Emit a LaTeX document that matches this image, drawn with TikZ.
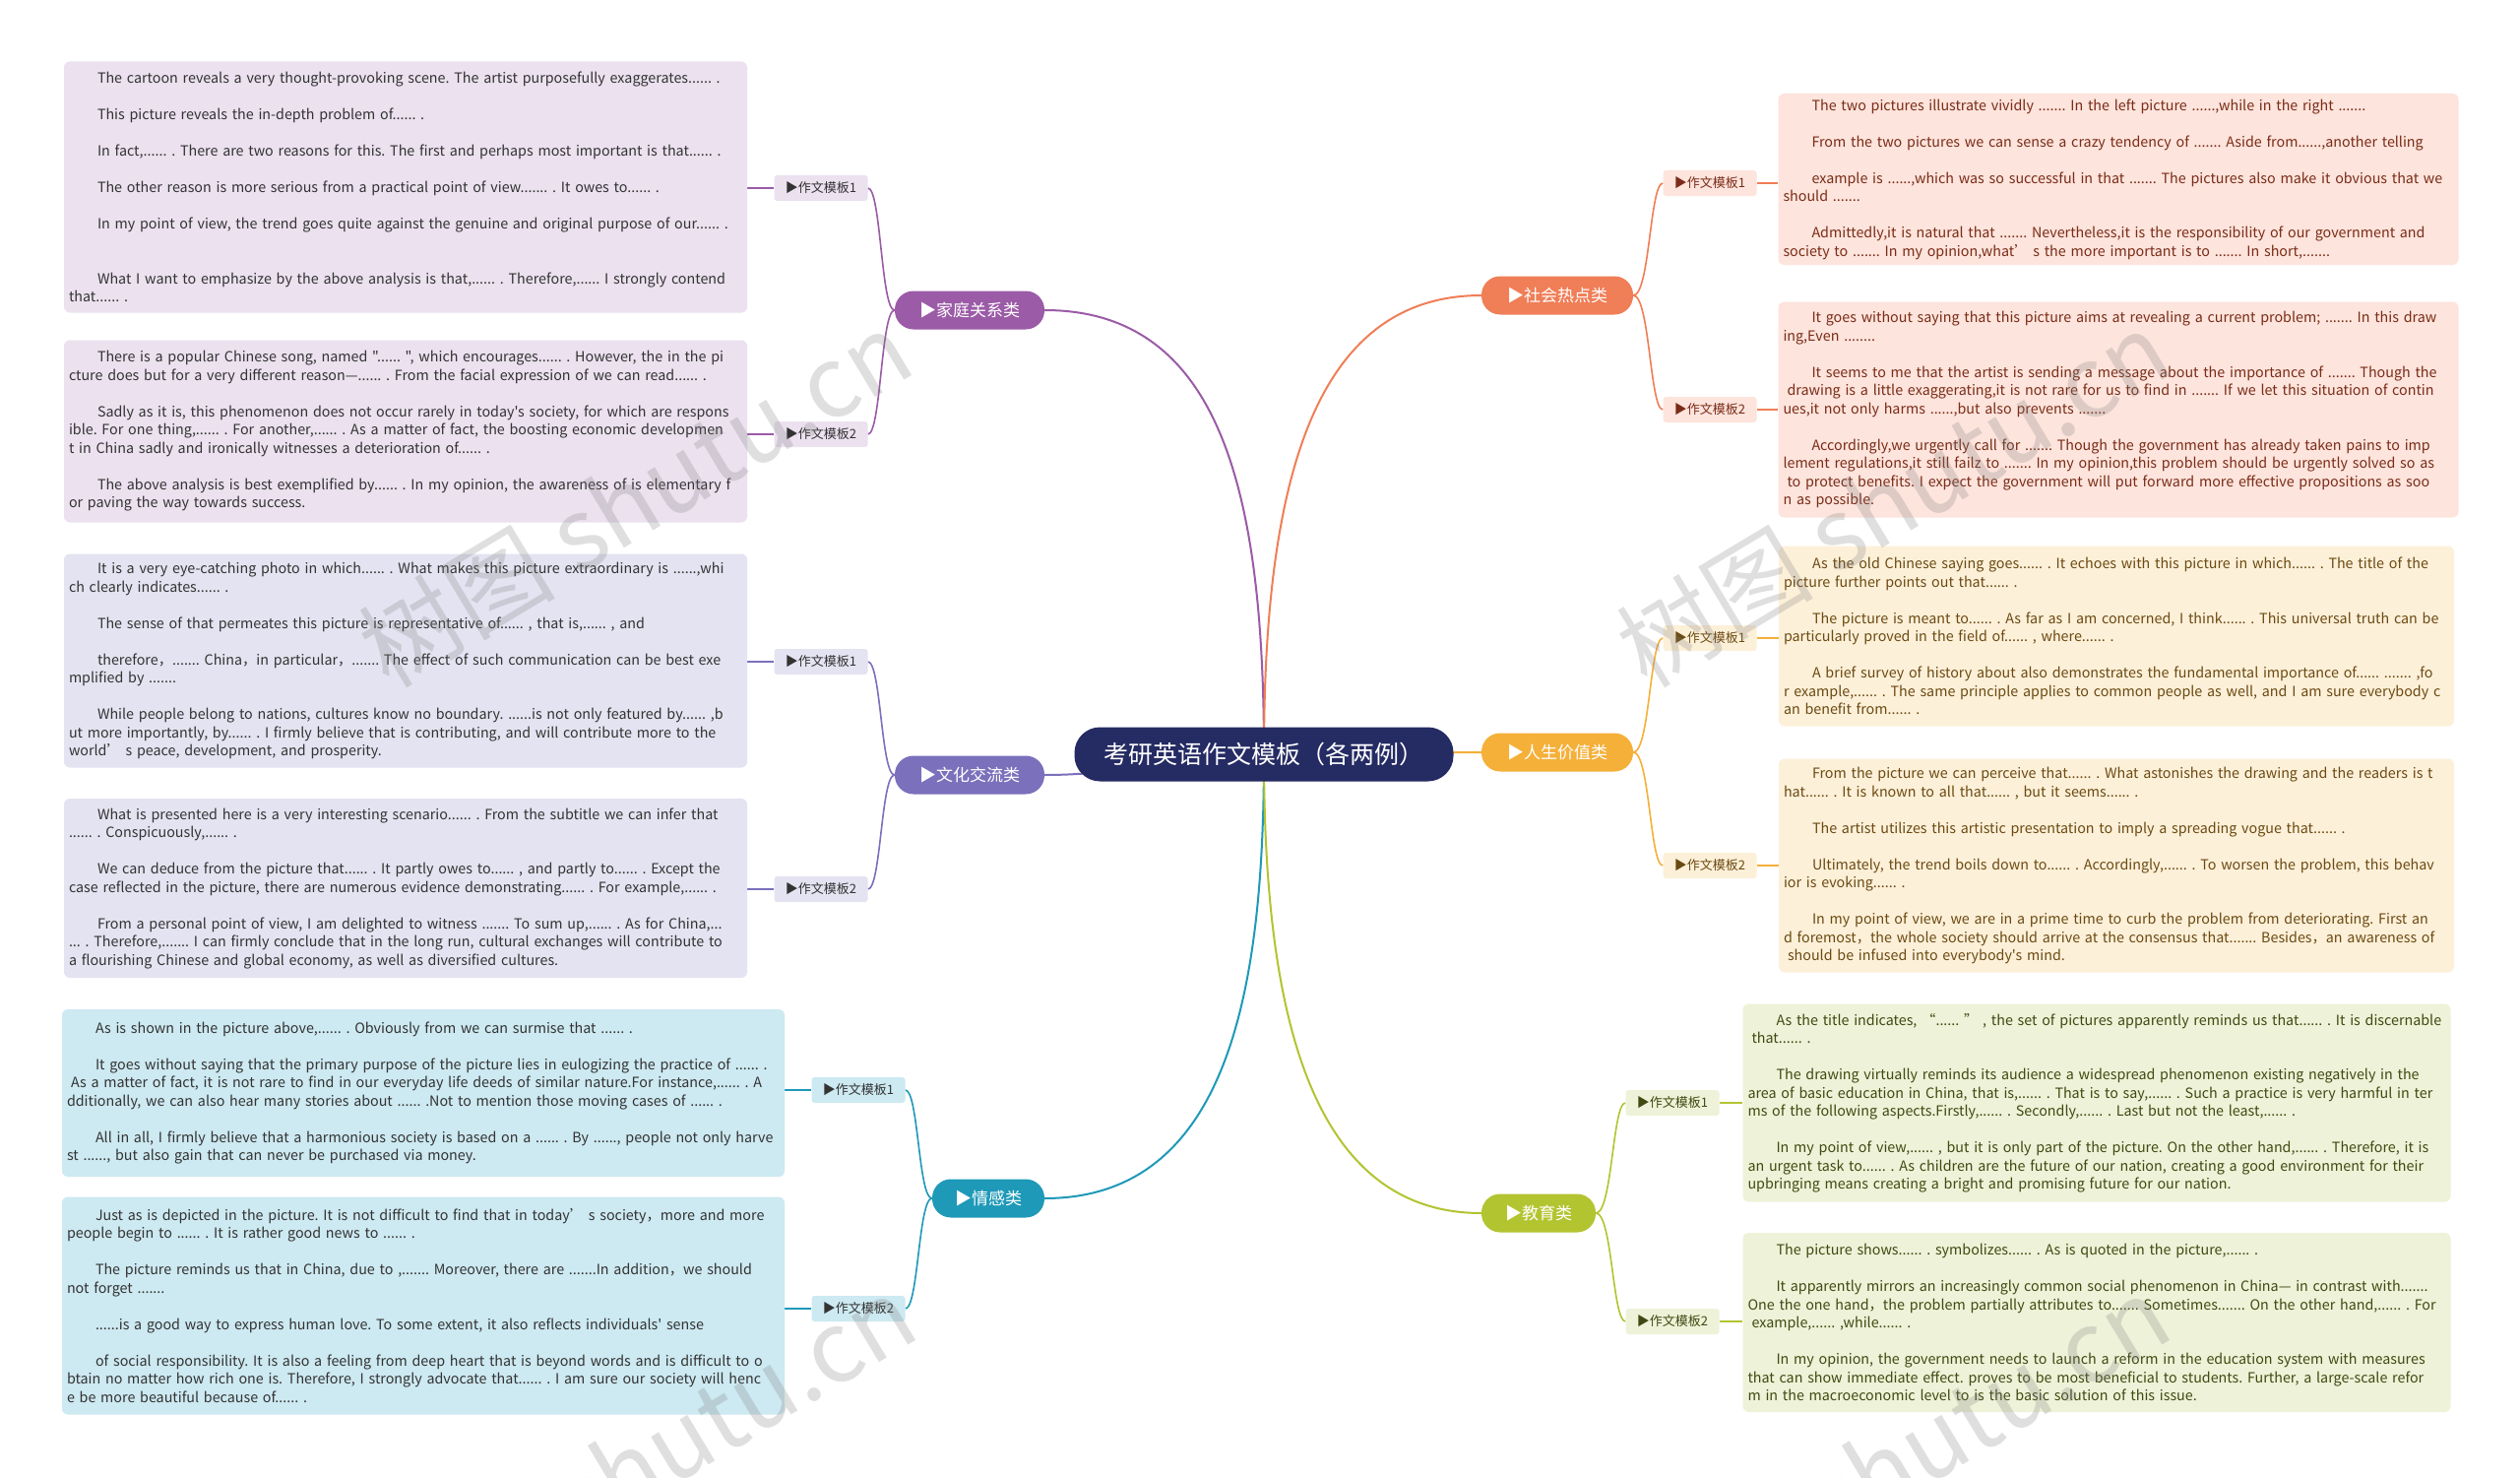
\documentclass[tikz,border=0pt]{standalone}
\usepackage{fontspec}
\setmainfont{Noto Sans CJK SC}
\newfontfamily\notofont{Noto Sans CJK SC}
\usetikzlibrary{backgrounds}
\definecolor{rootcol}{HTML}{252B63}
\definecolor{famcol}{HTML}{9B5BA7}
\definecolor{famfill}{HTML}{EBE1EF}
\definecolor{culcol}{HTML}{7A70BC}
\definecolor{culfill}{HTML}{E4E3F1}
\definecolor{emocol}{HTML}{1E99B8}
\definecolor{emofill}{HTML}{CDE9F1}
\definecolor{soccol}{HTML}{F07E57}
\definecolor{socfill}{HTML}{FDE4DC}
\definecolor{soctext}{HTML}{7A2C18}
\definecolor{lifcol}{HTML}{F5B03A}
\definecolor{liffill}{HTML}{FDF0D9}
\definecolor{liftext}{HTML}{6B4A12}
\definecolor{educol}{HTML}{B3C431}
\definecolor{edufill}{HTML}{EEF2D8}
\definecolor{edutext}{HTML}{3F4A12}
\definecolor{bodytext}{HTML}{333333}
\newcommand\parin{\hspace*{29pt}}
\frenchspacing
\hyphenpenalty=10000
\exhyphenpenalty=10000

\begin{document}
\begin{tikzpicture}[
  x=1pt, y=-1pt,
  root/.style={fill=rootcol, text=white, rounded corners=26pt, minimum width=385, minimum height=55, font=\fontsize{25}{30}\selectfont},
  branch/.style={rounded corners=19pt, text=white, minimum height=39, inner xsep=4pt, font=\fontsize{17}{20}\selectfont},
  tag/.style={rounded corners=3pt, minimum width=95, minimum height=26, inner sep=2pt, font=\fontsize{13}{15}\selectfont},
  tbox/.style={rounded corners=6pt, align=left, inner xsep=5pt, inner ysep=0pt, font=\notofont\fontsize{14.3}{18.5}\selectfont},
  link/.style={line width=2pt},
  sublink/.style={line width=1.6pt},
  wmark/.style={text=gray, opacity=0.25, font=\fontsize{100}{100}\selectfont, rotate=31}
]
\useasboundingbox (0,0) rectangle (2560,1501);

% centre and main branches
\node[root] (root) at (1284,766) {考研英语作文模板（各两例）};
\node[branch, fill=famcol, minimum width=152] (fam) at (985,315) {▶家庭关系类};
\node[branch, fill=culcol, minimum width=152] (cul) at (985,787) {▶文化交流类};
\node[branch, fill=emocol, minimum width=114] (emo) at (1004,1217) {▶情感类};
\node[branch, fill=soccol, minimum width=154] (soc) at (1582,300) {▶社会热点类};
\node[branch, fill=lifcol, minimum width=154] (lif) at (1582,764) {▶人生价值类};
\node[branch, fill=educol, minimum width=116] (edu) at (1563,1232) {▶教育类};

% tags
\node[tag, fill=famfill, text=bodytext] (fam1t) at (834,191) {▶作文模板1};
\node[tag, fill=famfill, text=bodytext] (fam2t) at (834,441) {▶作文模板2};
\node[tag, fill=culfill, text=bodytext] (cul1t) at (834,672) {▶作文模板1};
\node[tag, fill=culfill, text=bodytext] (cul2t) at (834,903) {▶作文模板2};
\node[tag, fill=emofill, text=bodytext] (emo1t) at (872,1107) {▶作文模板1};
\node[tag, fill=emofill, text=bodytext] (emo2t) at (872,1329) {▶作文模板2};
\node[tag, fill=socfill, text=soctext] (soc1t) at (1737,186) {▶作文模板1};
\node[tag, fill=socfill, text=soctext] (soc2t) at (1737,416) {▶作文模板2};
\node[tag, fill=liffill, text=liftext] (lif1t) at (1737,648) {▶作文模板1};
\node[tag, fill=liffill, text=liftext] (lif2t) at (1737,879) {▶作文模板2};
\node[tag, fill=edufill, text=edutext] (edu1t) at (1699,1120) {▶作文模板1};
\node[tag, fill=edufill, text=edutext] (edu2t) at (1699,1342) {▶作文模板2};

% left text boxes
\node[tbox, fill=famfill, text=bodytext, text width=684, minimum height=255] (fam1) at (412,190) {%
\parin The cartoon reveals a very thought-provoking scene. The artist purposefully exaggerates...... .\\[18.5pt]
\parin This picture reveals the in-depth problem of...... .\\[18.5pt]
\parin In fact,...... . There are two reasons for this. The first and perhaps most important is that...... .\\[18.5pt]
\parin The other reason is more serious from a practical point of view....... . It owes to...... .\\[18.5pt]
\parin In my point of view, the trend goes quite against the genuine and original purpose of our...... .\\[37pt]
\parin What I want to emphasize by the above analysis is that,...... . Therefore,...... I strongly contend\\
that...... .};
\node[tbox, fill=famfill, text=bodytext, text width=684, minimum height=185] (fam2) at (412,438) {%
\parin There is a popular Chinese song, named "...... ", which encourages...... . However, the in the pi\\
cture does but for a very different reason—...... . From the facial expression of we can read...... .\\[18.5pt]
\parin Sadly as it is, this phenomenon does not occur rarely in today's society, for which are respons\\
ible. For one thing,...... . For another,...... . As a matter of fact, the boosting economic developmen\\
t in China sadly and ironically witnesses a deterioration of...... .\\[18.5pt]
\parin The above analysis is best exemplified by...... . In my opinion, the awareness of is elementary f\\
or paving the way towards success.};
\node[tbox, fill=culfill, text=bodytext, text width=684, minimum height=217] (cul1) at (412,671) {%
\parin It is a very eye-catching photo in which...... . What makes this picture extraordinary is ......,whi\\
ch clearly indicates...... .\\[18.5pt]
\parin The sense of that permeates this picture is representative of...... , that is,...... , and\\[18.5pt]
\parin therefore，....... China，in particular，....... The effect of such communication can be best exe\\
mplified by .......\\[18.5pt]
\parin While people belong to nations, cultures know no boundary. ......is not only featured by...... ,b\\
ut more importantly, by...... . I firmly believe that is contributing, and will contribute more to the\\
world’ s peace, development, and prosperity.};
\node[tbox, fill=culfill, text=bodytext, text width=684, minimum height=182] (cul2) at (412,902) {%
\parin What is presented here is a very interesting scenario...... . From the subtitle we can infer that\\
...... . Conspicuously,...... .\\[18.5pt]
\parin We can deduce from the picture that...... . It partly owes to...... , and partly to...... . Except the\\
case reflected in the picture, there are numerous evidence demonstrating...... . For example,...... .\\[18.5pt]
\parin From a personal point of view, I am delighted to witness ....... To sum up,...... . As for China,...\\
... . Therefore,....... I can firmly conclude that in the long run, cultural exchanges will contribute to\\
a flourishing Chinese and global economy, as well as diversified cultures.};
\node[tbox, fill=emofill, text=bodytext, text width=724, minimum height=170] (emo1) at (430,1110) {%
\parin As is shown in the picture above,...... . Obviously from we can surmise that ...... .\\[18.5pt]
\parin It goes without saying that the primary purpose of the picture lies in eulogizing the practice of ...... .\\
\hspace*{4pt}As a matter of fact, it is not rare to find in our everyday life deeds of similar nature.For instance,...... . A\\
dditionally, we can also hear many stories about ...... .Not to mention those moving cases of ...... .\\[18.5pt]
\parin All in all, I firmly believe that a harmonious society is based on a ...... . By ......, people not only harve\\
st ......, but also gain that can never be purchased via money.};
\node[tbox, fill=emofill, text=bodytext, text width=724, minimum height=221] (emo2) at (430,1326) {%
\parin Just as is depicted in the picture. It is not difficult to find that in today’ s society，more and more\\
people begin to ...... . It is rather good news to ...... .\\[18.5pt]
\parin The picture reminds us that in China, due to ,....... Moreover, there are .......In addition，we should\\
not forget .......\\[18.5pt]
\parin ......is a good way to express human love. To some extent, it also reflects individuals' sense\\[18.5pt]
\parin of social responsibility. It is also a feeling from deep heart that is beyond words and is difficult to o\\
btain no matter how rich one is. Therefore, I strongly advocate that...... . I am sure our society will henc\\
e be more beautiful because of...... .};

% right text boxes
\node[tbox, fill=socfill, text=soctext, text width=681, minimum height=174] (soc1) at (2152,182) {%
\parin The two pictures illustrate vividly ....... In the left picture ......,while in the right .......\\[18.5pt]
\parin From the two pictures we can sense a crazy tendency of ....... Aside from......,another telling\\[18.5pt]
\parin example is ......,which was so successful in that ....... The pictures also make it obvious that we\\
should .......\\[18.5pt]
\parin Admittedly,it is natural that ....... Nevertheless,it is the responsibility of our government and\\
society to ....... In my opinion,what’ s the more important is to ....... In short,.......};
\node[tbox, fill=socfill, text=soctext, text width=681, minimum height=219] (soc2) at (2152,416) {%
\parin It goes without saying that this picture aims at revealing a current problem; ....... In this draw\\
ing,Even ........\\[18.5pt]
\parin It seems to me that the artist is sending a message about the importance of ....... Though the\\
\hspace*{4pt}drawing is a little exaggerating,it is not rare for us to find in ....... If we let this situation of contin\\
ues,it not only harms ......,but also prevents .......\\[18.5pt]
\parin Accordingly,we urgently call for ....... Though the government has already taken pains to imp\\
lement regulations,it still failz to ....... In my opinion,this problem should be urgently solved so as\\
\hspace*{4pt}to protect benefits. I expect the government will put forward more effective propositions as soo\\
n as possible.};
\node[tbox, fill=liffill, text=liftext, text width=676, minimum height=183] (lif1) at (2150,646) {%
\parin As the old Chinese saying goes...... . It echoes with this picture in which...... . The title of the\\
picture further points out that...... .\\[18.5pt]
\parin The picture is meant to...... . As far as I am concerned, I think...... . This universal truth can be\\
particularly proved in the field of...... , where...... .\\[18.5pt]
\parin A brief survey of history about also demonstrates the fundamental importance of...... ....... ,fo\\
r example,...... . The same principle applies to common people as well, and I am sure everybody c\\
an benefit from...... .};
\node[tbox, fill=liffill, text=liftext, text width=676, minimum height=217] (lif2) at (2150,879) {%
\parin From the picture we can perceive that...... . What astonishes the drawing and the readers is t\\
hat...... . It is known to all that...... , but it seems...... .\\[18.5pt]
\parin The artist utilizes this artistic presentation to imply a spreading vogue that...... .\\[18.5pt]
\parin Ultimately, the trend boils down to...... . Accordingly,...... . To worsen the problem, this behav\\
ior is evoking...... .\\[18.5pt]
\parin In my point of view, we are in a prime time to curb the problem from deteriorating. First an\\
d foremost，the whole society should arrive at the consensus that....... Besides，an awareness of\\
\hspace*{4pt}should be infused into everybody's mind.};
\node[tbox, fill=edufill, text=edutext, text width=709, minimum height=201] (edu1) at (2130,1120) {%
\parin As the title indicates, “...... ” , the set of pictures apparently reminds us that...... . It is discernable\\
\hspace*{4pt}that...... .\\[18.5pt]
\parin The drawing virtually reminds its audience a widespread phenomenon existing negatively in the\\
area of basic education in China, that is,...... . That is to say,...... . Such a practice is very harmful in ter\\
ms of the following aspects.Firstly,...... . Secondly,...... . Last but not the least,...... .\\[18.5pt]
\parin In my point of view,...... , but it is only part of the picture. On the other hand,...... . Therefore, it is\\
an urgent task to...... . As children are the future of our nation, creating a good environment for their\\
upbringing means creating a bright and promising future for our nation.};
\node[tbox, fill=edufill, text=edutext, text width=709, minimum height=182] (edu2) at (2130,1343) {%
\parin The picture shows...... . symbolizes...... . As is quoted in the picture,...... .\\[18.5pt]
\parin It apparently mirrors an increasingly common social phenomenon in China— in contrast with.......\\
One the one hand，the problem partially attributes to....... Sometimes....... On the other hand,...... . For\\
\hspace*{4pt}example,...... ,while...... .\\[18.5pt]
\parin In my opinion, the government needs to launch a reform in the education system with measures\\
that can show immediate effect. proves to be most beneficial to students. Further, a large-scale refor\\
m in the macroeconomic level to is the basic solution of this issue.};

\begin{scope}[on background layer]
\fill[white] (0,0) rectangle (2560,1501);
% root to branches
\draw[link, famcol] (root.center) .. controls (1284,500) and (1240,315) .. (fam.east);
\draw[link, culcol] (root.center) .. controls (1200,766) and (1150,787) .. (cul.east);
\draw[link, emocol] (root.center) .. controls (1284,1000) and (1250,1217) .. (emo.east);
\draw[link, soccol] (root.center) .. controls (1284,500) and (1330,300) .. (soc.west);
\draw[link, lifcol] (root.center) .. controls (1370,766) and (1420,764) .. (lif.west);
\draw[link, educol] (root.center) .. controls (1284,1000) and (1320,1232) .. (edu.west);
% branches to tags
\draw[sublink, famcol] (fam.west) .. controls (895,315) and (895,191) .. (fam1t.east);
\draw[sublink, famcol] (fam.west) .. controls (895,315) and (895,441) .. (fam2t.east);
\draw[sublink, culcol] (cul.west) .. controls (895,787) and (895,672) .. (cul1t.east);
\draw[sublink, culcol] (cul.west) .. controls (895,787) and (895,903) .. (cul2t.east);
\draw[sublink, emocol] (emo.west) .. controls (933,1217) and (933,1107) .. (emo1t.east);
\draw[sublink, emocol] (emo.west) .. controls (933,1217) and (933,1329) .. (emo2t.east);
\draw[sublink, soccol] (soc.east) .. controls (1676,300) and (1676,186) .. (soc1t.west);
\draw[sublink, soccol] (soc.east) .. controls (1676,300) and (1676,416) .. (soc2t.west);
\draw[sublink, lifcol] (lif.east) .. controls (1676,764) and (1676,648) .. (lif1t.west);
\draw[sublink, lifcol] (lif.east) .. controls (1676,764) and (1676,879) .. (lif2t.west);
\draw[sublink, educol] (edu.east) .. controls (1638,1232) and (1638,1120) .. (edu1t.west);
\draw[sublink, educol] (edu.east) .. controls (1638,1232) and (1638,1342) .. (edu2t.west);
% tags to boxes
\draw[sublink, famcol] (fam1t.west) -- (fam1t.west -| fam1.east);
\draw[sublink, famcol] (fam2t.west) -- (fam2t.west -| fam2.east);
\draw[sublink, culcol] (cul1t.west) -- (cul1t.west -| cul1.east);
\draw[sublink, culcol] (cul2t.west) -- (cul2t.west -| cul2.east);
\draw[sublink, emocol] (emo1t.west) -- (emo1t.west -| emo1.east);
\draw[sublink, emocol] (emo2t.west) -- (emo2t.west -| emo2.east);
\draw[sublink, soccol] (soc1t.east) -- (soc1t.east -| soc1.west);
\draw[sublink, soccol] (soc2t.east) -- (soc2t.east -| soc2.west);
\draw[sublink, lifcol] (lif1t.east) -- (lif1t.east -| lif1.west);
\draw[sublink, lifcol] (lif2t.east) -- (lif2t.east -| lif2.west);
\draw[sublink, educol] (edu1t.east) -- (edu1t.east -| edu1.west);
\draw[sublink, educol] (edu2t.east) -- (edu2t.east -| edu2.west);
\end{scope}

% watermarks
\node[wmark] (wm1) at (645,506) {树图 shutu.cn};
\node[wmark] (wm2) at (1923,506) {树图 shutu.cn};
\node[wmark] (wm3) at (649,1486) {树图 shutu.cn};
\node[wmark] (wm4) at (1923,1486) {树图 shutu.cn};
\end{tikzpicture}
\end{document}
